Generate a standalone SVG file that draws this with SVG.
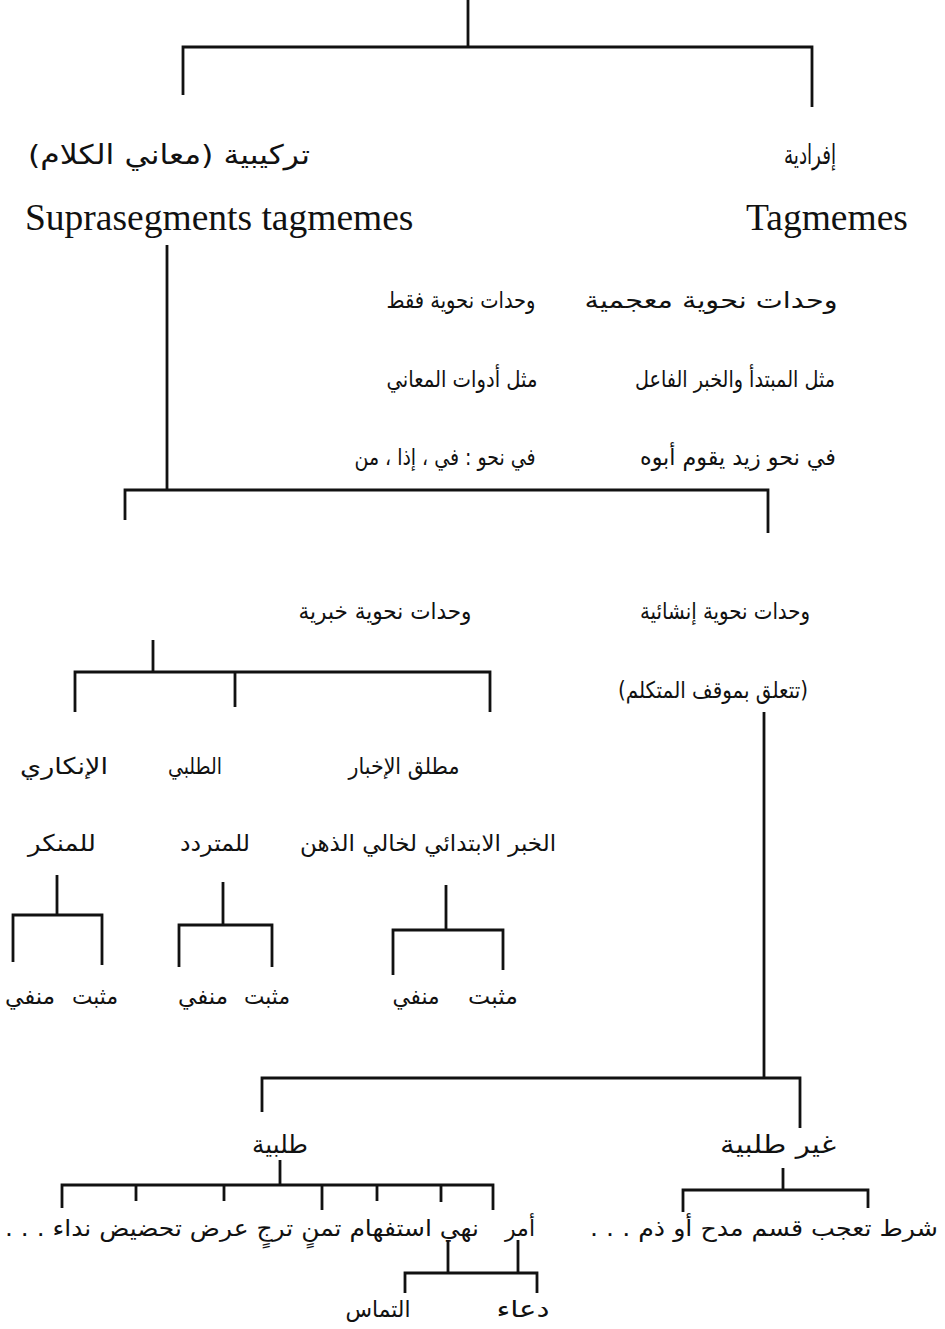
<svg xmlns="http://www.w3.org/2000/svg" width="945" height="1329" viewBox="0 0 945 1329">
  <style>
    .ar { font-family: "DejaVu Sans", "Noto Sans", sans-serif; font-size: 23px; fill: #111; text-anchor: middle; direction: rtl; }
    .ar.big { font-size: 27px; }
    .ar.mid { font-size: 25px; }
    .lat { font-family: "Liberation Serif", "Times New Roman", serif; font-size: 37.5px; fill: #111; }
    .ln { fill: none; stroke: #111; stroke-width: 2.8; stroke-linecap: butt; stroke-linejoin: miter; }
  </style>
  <rect width="945" height="1329" fill="#fff"/>

  <!-- tree connectors -->
  <g id="connectors" class="ln">
    <path d="M468,0 V47 M183,95 V47 H812 V107"/>
    <path d="M167,245 V490 M125,520 V490 H768 V533"/>
    <path d="M153,640 V672 M75,712 V672 H490 V712 M235,672 V707"/>
    <path d="M57,875 V915 M13,962 V915 H102 V965"/>
    <path d="M223,882 V925 M179,967 V925 H272 V967"/>
    <path d="M446,885 V930 M393,975 V930 H503 V970"/>
    <path d="M764,712 V1078 M262,1112 V1078 H800 V1128"/>
    <path d="M280,1160 V1185 M62,1208 V1185 H493 V1210 M136,1185 V1201 M224,1185 V1201 M322,1185 V1210 M377,1185 V1201 M441,1185 V1202"/>
    <path d="M448,1240 V1273 M518,1240 V1273 M405,1293 V1273 H537 V1293"/>
    <path d="M783,1168 V1190 M683,1212 V1190 H868 V1208"/>
  </g>

  <!-- level 1 -->
  <g id="n-tarkibiya">
    <text class="ar big" x="169" y="164" textLength="282" lengthAdjust="spacingAndGlyphs">تركيبية (معاني الكلام)</text>
  </g>
  <g id="n-ifradiya">
    <text class="ar big" x="810" y="164" textLength="52" lengthAdjust="spacingAndGlyphs">إفرادية</text>
  </g>
  <g id="n-suprasegments">
    <text class="lat" x="25" y="230">Suprasegments tagmemes</text>
  </g>
  <g id="n-tagmemes">
    <text class="lat" x="746" y="230">Tagmemes</text>
  </g>

  <!-- descriptions -->
  <g id="n-desc">
    <text class="ar" x="711" y="308" textLength="253" lengthAdjust="spacingAndGlyphs">وحدات نحوية معجمية</text>
    <text class="ar" x="461" y="308" textLength="149" lengthAdjust="spacingAndGlyphs">وحدات نحوية فقط</text>
    <text class="ar" x="735" y="387" textLength="200" lengthAdjust="spacingAndGlyphs">مثل المبتدأ والخبر الفاعل</text>
    <text class="ar" x="462" y="387" textLength="151" lengthAdjust="spacingAndGlyphs">مثل أدوات المعاني</text>
    <text class="ar" x="738" y="465" textLength="196" lengthAdjust="spacingAndGlyphs">في نحو زيد يقوم أبوه</text>
    <text class="ar" x="445" y="465" textLength="181" lengthAdjust="spacingAndGlyphs">في نحو : في ، إذا ، من</text>
  </g>

  <!-- level 2 -->
  <g id="n-khabariya">
    <text class="ar" x="385" y="619" textLength="173" lengthAdjust="spacingAndGlyphs">وحدات نحوية خبرية</text>
  </g>
  <g id="n-inshaiya">
    <text class="ar" x="725" y="619" textLength="170" lengthAdjust="spacingAndGlyphs">وحدات نحوية إنشائية</text>
    <text class="ar" x="713" y="698" textLength="190" lengthAdjust="spacingAndGlyphs">(تتعلق بموقف المتكلم)</text>
  </g>

  <!-- kinds of khabar -->
  <g id="n-inkari">
    <text class="ar" x="64" y="774" textLength="88" lengthAdjust="spacingAndGlyphs">الإنكاري</text>
    <text class="ar" x="62" y="851" textLength="68" lengthAdjust="spacingAndGlyphs">للمنكر</text>
  </g>
  <g id="n-talabi">
    <text class="ar" x="195" y="774" textLength="54" lengthAdjust="spacingAndGlyphs">الطلبي</text>
    <text class="ar" x="215" y="851" textLength="70" lengthAdjust="spacingAndGlyphs">للمتردد</text>
  </g>
  <g id="n-mutlaq">
    <text class="ar" x="404" y="774" textLength="111" lengthAdjust="spacingAndGlyphs">مطلق الإخبار</text>
    <text class="ar" x="428" y="851" textLength="256" lengthAdjust="spacingAndGlyphs">الخبر الابتدائي لخالي الذهن</text>
  </g>

  <!-- muthbat / manfi leaves -->
  <g id="n-leaves-inkari">
    <text class="ar" x="95" y="1004" textLength="46" lengthAdjust="spacingAndGlyphs">مثبت</text>
    <text class="ar" x="30" y="1004" textLength="50" lengthAdjust="spacingAndGlyphs">منفي</text>
  </g>
  <g id="n-leaves-talabi">
    <text class="ar" x="267" y="1004" textLength="46" lengthAdjust="spacingAndGlyphs">مثبت</text>
    <text class="ar" x="203" y="1004" textLength="50" lengthAdjust="spacingAndGlyphs">منفي</text>
  </g>
  <g id="n-leaves-mutlaq">
    <text class="ar" x="493" y="1004" textLength="50" lengthAdjust="spacingAndGlyphs">مثبت</text>
    <text class="ar" x="416" y="1004" textLength="47" lengthAdjust="spacingAndGlyphs">منفي</text>
  </g>

  <!-- insha'i branches -->
  <g id="n-talabiya">
    <text class="ar mid" x="280" y="1153" textLength="56" lengthAdjust="spacingAndGlyphs">طلبية</text>
  </g>
  <g id="n-ghayr-talabiya">
    <text class="ar mid" x="778" y="1153" textLength="116" lengthAdjust="spacingAndGlyphs">غير طلبية</text>
  </g>

  <g id="n-talabiya-items">
    <text class="ar" x="520" y="1236" textLength="30" lengthAdjust="spacingAndGlyphs">أمر</text>
    <text class="ar" x="242" y="1236" textLength="474" lengthAdjust="spacingAndGlyphs">نهي استفهام تمنٍ ترجٍ عرض تحضيض نداء . . .</text>
  </g>
  <g id="n-ghayr-items">
    <text class="ar" x="764" y="1236" textLength="348" lengthAdjust="spacingAndGlyphs">شرط تعجب قسم مدح أو ذم . . .</text>
  </g>

  <g id="n-iltimas">
    <text class="ar" x="378" y="1317" textLength="65" lengthAdjust="spacingAndGlyphs">التماس</text>
  </g>
  <g id="n-duaa">
    <text class="ar" x="523" y="1317" textLength="53" lengthAdjust="spacingAndGlyphs">دعاء</text>
  </g>
</svg>
